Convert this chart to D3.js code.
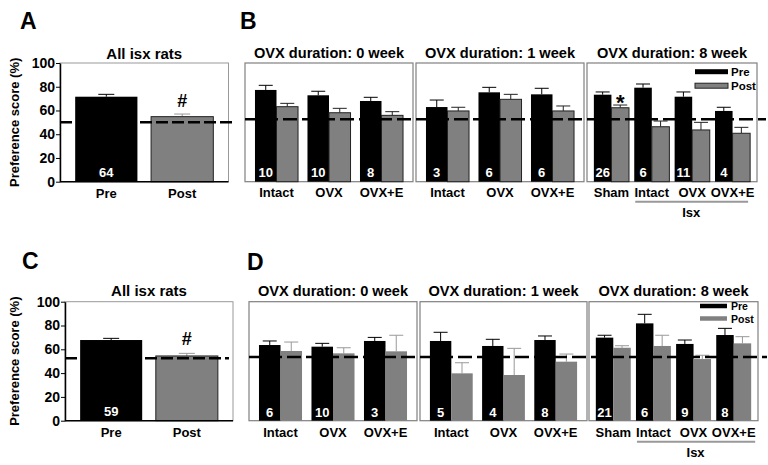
<!DOCTYPE html>
<html><head><meta charset="utf-8">
<script src="https://cdn.jsdelivr.net/npm/d3@7"></script>
<style>
body{margin:0;background:#fff;}
svg text{font-family:"Liberation Sans",Arial,sans-serif;font-weight:bold;}
</style></head>
<body>
<svg id="chart" width="768" height="465"></svg>
<script>
// ---------- DATA ----------
const simpleCats = ["Pre", "Post"];
const yTicks = [0, 20, 40, 60, 80, 100];

// Panel A
const aValues = [71.6, 54.8];
const aErrors = [2.0, 2.2];
const aN = 64;
const aRef = 50;
// Panel C
const cValues = [67.8, 54.4];
const cErrors = [1.4, 2.2];
const cN = 59;
const cRef = 52.4;

const subTitles = ["OVX duration: 0 week", "OVX duration: 1 week", "OVX duration: 8 week"];
const subGroups = [["Intact", "OVX", "OVX+E"], ["Intact", "OVX", "OVX+E"], ["Sham", "Intact", "OVX", "OVX+E"]];

// Panel B
const bPre = [[77.3, 72.8, 68.0], [62.9, 75.3, 73.6], [73.3, 79.2, 71.6, 59.6]];
const bPreErr = [[3.9, 3.4, 3.1], [5.9, 4.2, 5.1], [2.3, 3.1, 4.0, 3.1]];
const bPost = [[63.2, 58.1, 55.9], [59.6, 69.4, 59.6], [62.3, 46.3, 43.6, 40.8]];
const bPostErr = [[2.8, 3.7, 3.1], [3.1, 4.2, 4.2], [2.3, 4.8, 6.4, 5.0]];
const bN = [[10, 10, 8], [3, 6, 6], [26, 6, 11, 4]];
const bRef = 52.7;

// Panel D
const dPre = [[63.6, 62.2, 67.0], [67.0, 62.8, 67.8], [69.8, 81.8, 64.5, 72.0]];
const dPreErr = [[3.4, 2.8, 3.0], [7.3, 5.6, 3.4], [2.0, 7.6, 3.3, 5.6]];
const dPost = [[58.6, 56.6, 58.3], [39.8, 38.4, 49.6], [61.3, 62.8, 51.8, 65.0]];
const dPostErr = [[7.5, 4.7, 13.5], [8.9, 22.4, 6.4], [1.7, 9.0, 3.2, 5.6]];
const dN = [[6, 10, 3], [5, 4, 8], [21, 6, 9, 8]];
const dRef = 53.5;

const legendLabels = ["Pre", "Post"];
const isxLabel = "Isx";
const yLabel = "Preference score (%)";
const simpleTitle = "All isx rats";

// ---------- DRAW ----------
const svg = d3.select("#chart");
const GRAY = "#808080";

function panelLetter(t, x, y) {
  svg.append("text").attr("x", x).attr("y", y).attr("font-size", 23).text(t);
}

function drawSimple(o) {
  const g = svg.append("g");
  const y = d3.scaleLinear().domain([0, 100]).range([o.yBot, o.yTop]);
  const x = d3.scaleBand().domain(simpleCats).range([o.x0, o.x1]).paddingInner(0.18).paddingOuter(0.2);
  g.append("rect").attr("x", o.x0).attr("y", o.yTop).attr("width", o.x1 - o.x0).attr("height", o.yBot - o.yTop)
    .attr("fill", "none").attr("stroke", "#999").attr("stroke-width", 1);
  const data = simpleCats.map((c, i) => ({c, v: o.values[i], e: o.errors[i], i}));
  data.forEach(d => {
    const cx = x(d.c) + x.bandwidth() / 2;
    const col = d.i === 0 ? "#000" : "#999";
    g.append("line").attr("x1", cx).attr("x2", cx).attr("y1", y(d.v)).attr("y2", y(d.v + d.e)).attr("stroke", col);
    g.append("line").attr("x1", cx - 8).attr("x2", cx + 8).attr("y1", y(d.v + d.e)).attr("y2", y(d.v + d.e)).attr("stroke", col);
  });
  g.selectAll("rect.bar").data(data).join("rect").attr("class", "bar")
    .attr("x", d => x(d.c)).attr("width", x.bandwidth())
    .attr("y", d => y(d.v)).attr("height", d => y(0) - y(d.v))
    .attr("fill", d => d.i === 0 ? "#000" : GRAY)
    .attr("stroke", d => d.i === 0 ? "none" : "#222").attr("stroke-width", 1);
  const ax = g.append("g").attr("transform", `translate(${o.x0},0)`)
    .call(d3.axisLeft(y).tickValues(yTicks).tickSize(4).tickSizeOuter(0).tickPadding(1));
  ax.select(".domain").attr("stroke", "#000").attr("stroke-width", 1.5);
  ax.selectAll("text").attr("font-size", 14).attr("fill", "#000").attr("font-family", "Liberation Sans, Arial").attr("font-weight", "bold");
  g.append("line").attr("x1", o.x0).attr("x2", o.x1).attr("y1", o.yBot).attr("y2", o.yBot).attr("stroke", "#000").attr("stroke-width", 1.5);
  g.append("line").attr("x1", o.x0).attr("x2", o.refEnd).attr("y1", y(o.ref)).attr("y2", y(o.ref))
    .attr("stroke", "#000").attr("stroke-width", 2.5).attr("stroke-dasharray", "12,4");
  simpleCats.forEach(c => {
    g.append("text").attr("x", x(c) + x.bandwidth() / 2).attr("y", o.xLabY).attr("text-anchor", "middle").attr("font-size", 13).text(c);
  });
  g.append("text").attr("x", x("Pre") + x.bandwidth() / 2).attr("y", o.nY).attr("text-anchor", "middle")
    .attr("font-size", 13).attr("fill", "#fff").text(o.n);
  g.append("text").attr("x", x("Post") + x.bandwidth() / 2).attr("y", o.hashY).attr("text-anchor", "middle")
    .attr("font-size", 18).text("#");
  g.append("text").attr("x", (o.x0 + o.x1) / 2).attr("y", o.titleY).attr("text-anchor", "middle").attr("font-size", 15).text(simpleTitle);
  g.append("text").attr("transform", `translate(${o.yLabX},${(o.yTop + o.yBot) / 2}) rotate(-90)`)
    .attr("text-anchor", "middle").attr("font-size", 13).text(yLabel);
}

function drawGrouped(o) {
  const g = svg.append("g");
  const y = d3.scaleLinear().domain([0, 100]).range([o.yBot, o.yTop]);
  o.subs.forEach((s, k) => {
    const groups = subGroups[k];
    const pad = groups.length === 4 ? {i: 0.13, o: 0.17} : {i: 0.18, o: 0.19};
    const x = d3.scaleBand().domain(groups).range([s[0], s[1]]).paddingInner(pad.i).paddingOuter(pad.o);
    const inner = d3.scaleBand().domain(legendLabels).range([0, x.bandwidth()]);
    g.append("rect").attr("x", s[0]).attr("y", o.yTop).attr("width", s[1] - s[0]).attr("height", o.yBot - o.yTop)
      .attr("fill", "none").attr("stroke", "#808080").attr("stroke-width", 1.2);
    const rows = [];
    groups.forEach((gr, j) => {
      rows.push({gr, s: "Pre", v: o.pre[k][j], e: o.preErr[k][j]});
      rows.push({gr, s: "Post", v: o.post[k][j], e: o.postErr[k][j]});
    });
    rows.forEach(d => {
      const cx = x(d.gr) + inner(d.s) + inner.bandwidth() / 2;
      const col = d.s === "Pre" ? "#000" : o.postErrColor;
      g.append("line").attr("x1", cx).attr("x2", cx).attr("y1", y(d.v)).attr("y2", y(d.v + d.e)).attr("stroke", col);
      g.append("line").attr("x1", cx - 7).attr("x2", cx + 7).attr("y1", y(d.v + d.e)).attr("y2", y(d.v + d.e)).attr("stroke", col);
    });
    g.selectAll(null).data(rows).join("rect")
      .attr("x", d => x(d.gr) + inner(d.s)).attr("width", inner.bandwidth())
      .attr("y", d => y(d.v)).attr("height", d => y(0) - y(d.v))
      .attr("fill", d => d.s === "Pre" ? "#000" : GRAY)
      .attr("stroke", d => d.s === "Pre" ? "none" : o.postStroke).attr("stroke-width", 1);
    groups.forEach((gr, j) => {
      g.append("text").attr("x", x(gr) + x.bandwidth() / 2).attr("y", o.xLabY).attr("text-anchor", "middle").attr("font-size", 13).text(gr);
      g.append("text").attr("x", x(gr) + inner("Pre") + inner.bandwidth() / 2).attr("y", o.nY).attr("text-anchor", "middle")
        .attr("font-size", 13).attr("fill", "#fff").text(o.n[k][j]);
    });
    g.append("text").attr("x", (s[0] + s[1]) / 2).attr("y", o.titleY).attr("text-anchor", "middle").attr("font-size", 14.6).text(subTitles[k]);
    if (k === 2) {
      g.append("line").attr("x1", x("Intact") + 1).attr("x2", x("OVX+E") + x.bandwidth() + o.isxExtra)
        .attr("y1", o.isxLineY).attr("y2", o.isxLineY).attr("stroke", "#999").attr("stroke-width", 2);
      g.append("text").attr("x", (x("Intact") + x("OVX+E") + x.bandwidth()) / 2 + o.isxExtra / 2).attr("y", o.isxY)
        .attr("text-anchor", "middle").attr("font-size", 13).text(isxLabel);
      if (o.star) {
        g.append("text").attr("x", x("Sham") + inner("Post") + inner.bandwidth() / 2).attr("y", o.starY)
          .attr("text-anchor", "middle").attr("font-size", 22).text("*");
      }
      legendLabels.forEach((lab, i) => {
        const ly = o.legY + i * o.legStep;
        if (o.legStyle === "rect") {
          g.append("rect").attr("x", o.legX).attr("y", ly - 2.5).attr("width", 33).attr("height", 5)
            .attr("fill", i === 0 ? "#000" : GRAY).attr("stroke", i === 0 ? "none" : "#222").attr("stroke-width", 1);
        } else {
          g.append("line").attr("x1", o.legX).attr("x2", o.legX + 27).attr("y1", ly).attr("y2", ly)
            .attr("stroke", i === 0 ? "#000" : GRAY).attr("stroke-width", 4.5);
        }
        g.append("text").attr("x", o.legTextX).attr("y", ly + 4).attr("font-size", o.legFont).text(lab);
      });
    }
  });
  g.append("line").attr("x1", o.subs[0][0]).attr("x2", o.refEnd).attr("y1", y(o.ref)).attr("y2", y(o.ref))
    .attr("stroke", "#000").attr("stroke-width", 2.5).attr("stroke-dasharray", "14,5");
}

panelLetter("A", 20, 29);
panelLetter("B", 240, 29);
panelLetter("C", 22, 269);
panelLetter("D", 247, 270);

drawSimple({x0: 60, x1: 228.5, yTop: 63, yBot: 181.7, values: aValues, errors: aErrors, n: aN, ref: aRef,
  refEnd: 233, xLabY: 198, nY: 177, hashY: 107, titleY: 59, yLabX: 19});
drawSimple({x0: 65, x1: 233, yTop: 301.7, yBot: 420.7, values: cValues, errors: cErrors, n: cN, ref: cRef,
  refEnd: 229, xLabY: 437, nY: 416, hashY: 345, titleY: 296, yLabX: 19});

drawGrouped({subs: [[245, 413], [416, 584], [587, 757]], yTop: 63, yBot: 181.7,
  pre: bPre, preErr: bPreErr, post: bPost, postErr: bPostErr, n: bN, ref: bRef, refEnd: 766,
  xLabY: 197, nY: 176.5, titleY: 58, isxLineY: 201.7, isxY: 217, isxExtra: -2, star: true, starY: 110,
  postErrColor: "#222", postStroke: "#222", legStyle: "rect", legX: 695, legY: 71.7, legStep: 14, legTextX: 731, legFont: 11.5});
drawGrouped({subs: [[249, 417], [420, 587], [589, 758]], yTop: 301.7, yBot: 420.7,
  pre: dPre, preErr: dPreErr, post: dPost, postErr: dPostErr, n: dN, ref: dRef, refEnd: 767,
  xLabY: 437, nY: 417, titleY: 296, isxLineY: 441.7, isxY: 457, isxExtra: 4, star: false,
  postErrColor: "#999", postStroke: "none", legStyle: "line", legX: 700, legY: 306, legStep: 12.5, legTextX: 731, legFont: 10.5});
</script>
</body></html>
